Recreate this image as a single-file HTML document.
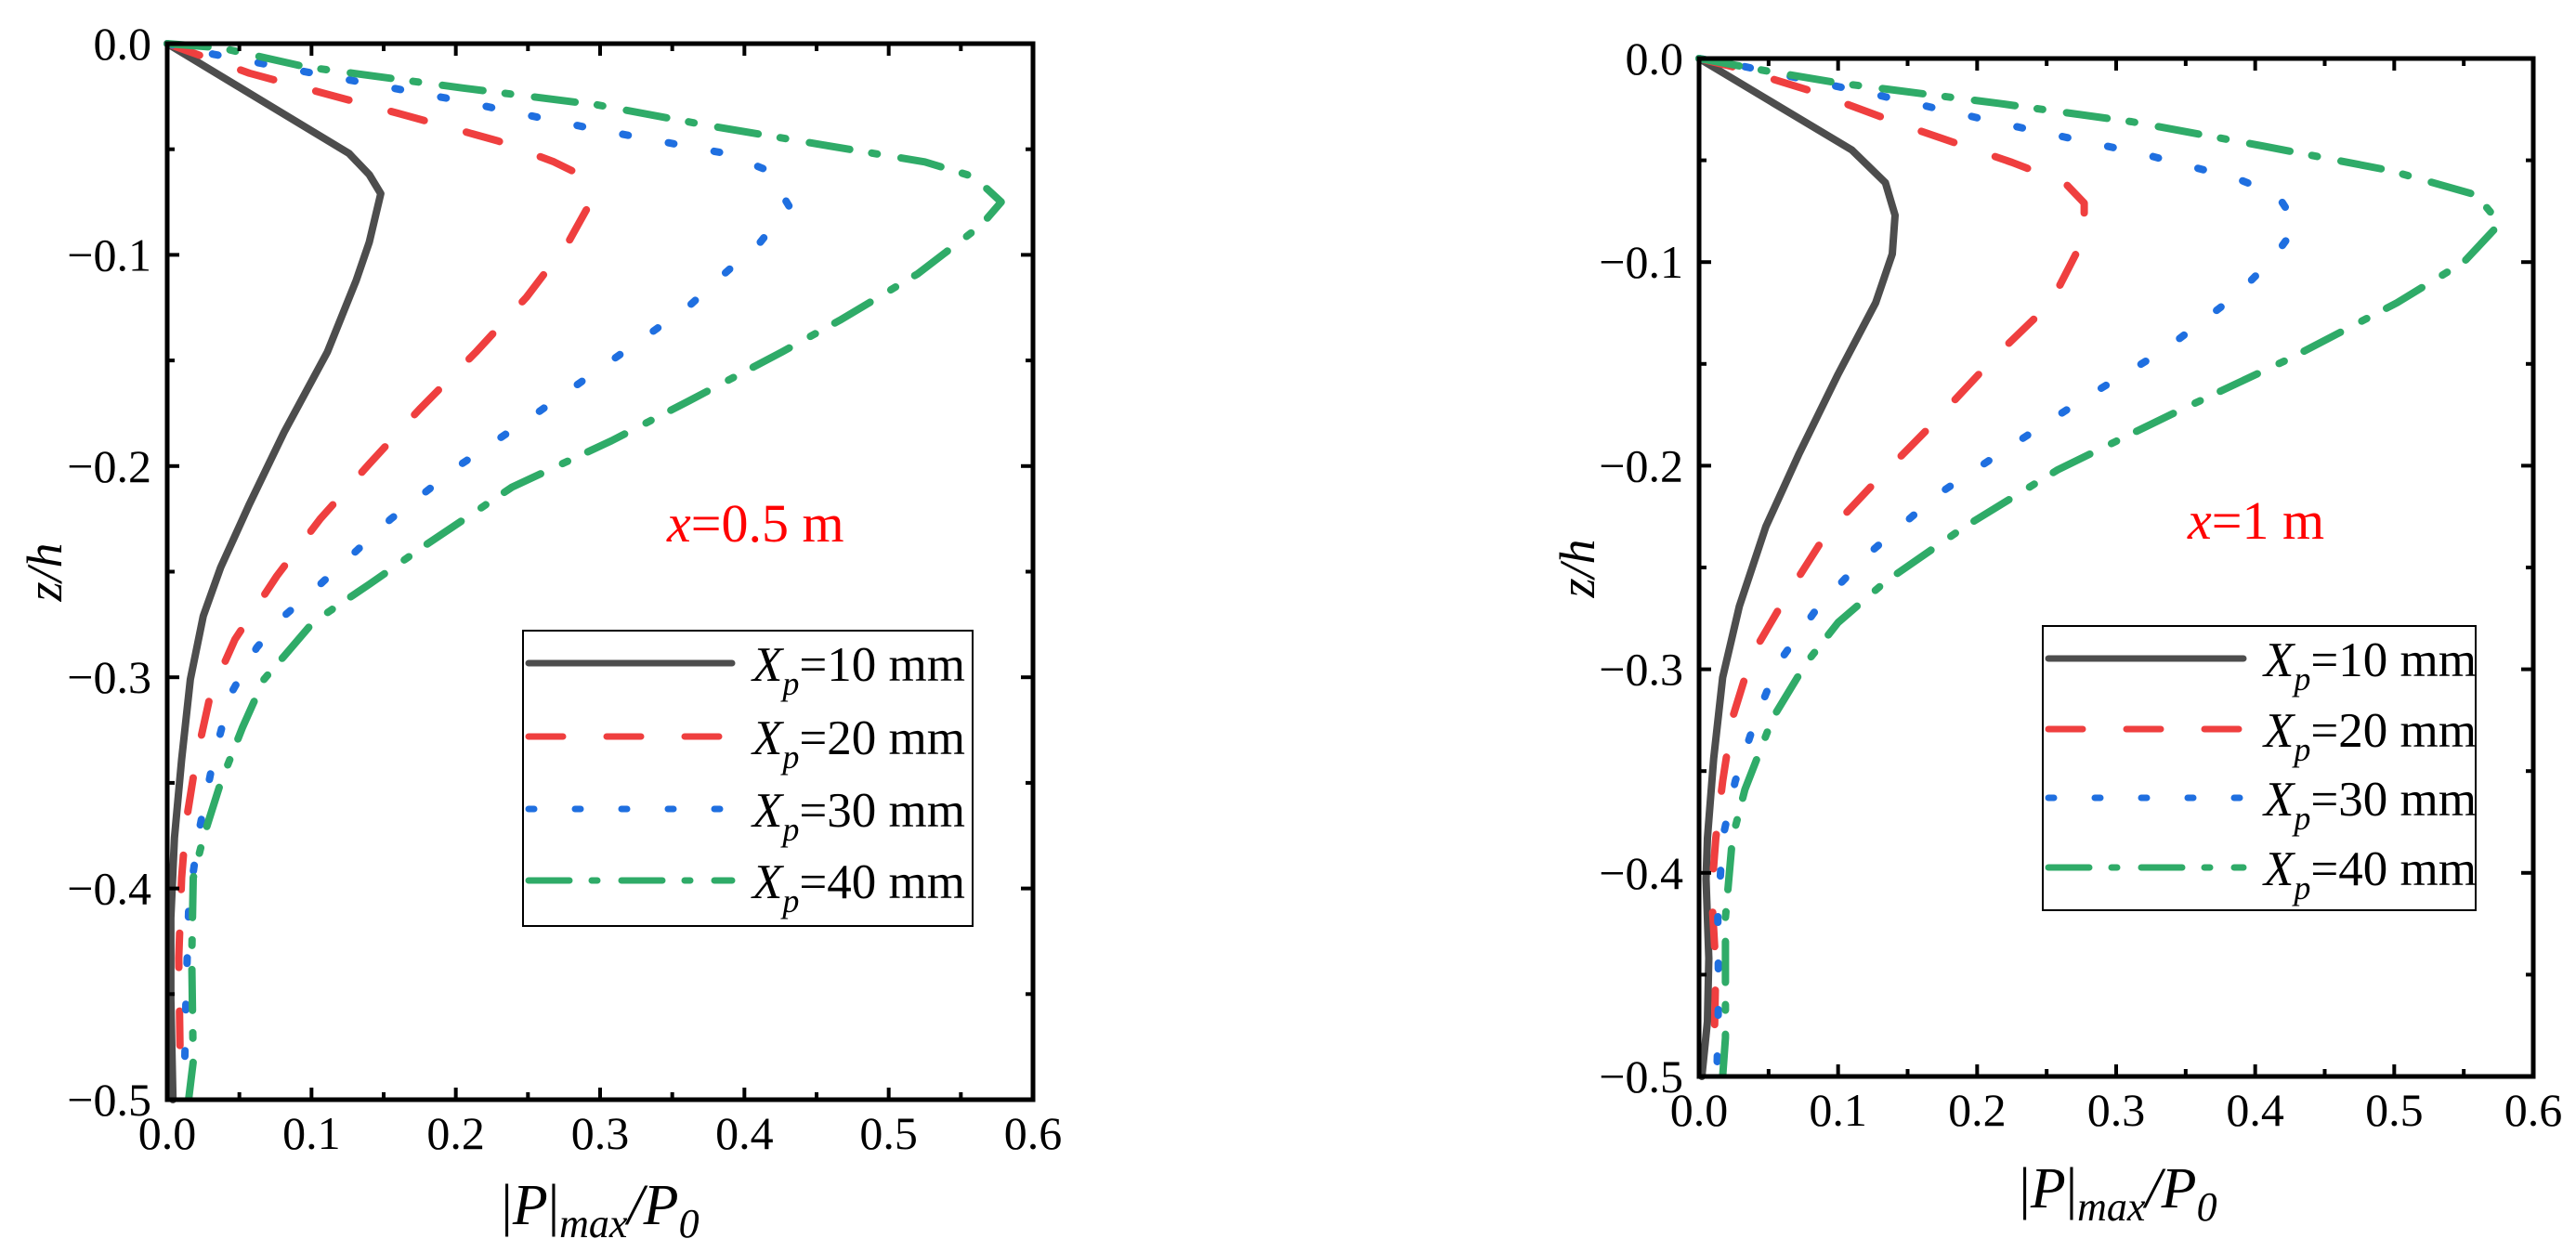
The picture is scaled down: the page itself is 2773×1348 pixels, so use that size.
<!DOCTYPE html>
<html><head><meta charset="utf-8">
<style>
html,body{margin:0;padding:0;background:#fff;}
svg{display:block;}
text{font-family:"Liberation Serif","Times New Roman",serif;}
</style></head>
<body>
<svg id="fig" width="2773" height="1348" viewBox="0 0 2773 1348" xmlns="http://www.w3.org/2000/svg"></svg>
<script>
// ---- data (x = |P|max/P0, z = z/h) ----
const seriesNames = ["Xp=10 mm","Xp=20 mm","Xp=30 mm","Xp=40 mm"];
const xTicks = [0,0.1,0.2,0.3,0.4,0.5,0.6];
const yTicks = [0,-0.1,-0.2,-0.3,-0.4,-0.5];
const xTickLabels = ["0.0","0.1","0.2","0.3","0.4","0.5","0.6"];
const yTickLabels = ["0.0","\u22120.1","\u22120.2","\u22120.3","\u22120.4","\u22120.5"];

// Panel A: x=0.5 m
const a10x = [0,0.126,0.140,0.148,0.140,0.131,0.111,0.081,0.057,0.037,0.025,0.016,0.010,0.005,0.0025,0.0025,0.004];
const a10z = [0,-0.052,-0.062,-0.071,-0.094,-0.112,-0.146,-0.184,-0.218,-0.248,-0.271,-0.301,-0.339,-0.376,-0.414,-0.452,-0.5];
const a20x = [0,0.057,0.160,0.229,0.268,0.283,0.291,0.278,0.249,0.214,0.175,0.140,0.106,0.076,0.047,0.030,0.020,0.013,0.010,0.008,0.009];
const a20z = [0,-0.014,-0.033,-0.046,-0.056,-0.061,-0.078,-0.094,-0.12,-0.146,-0.173,-0.199,-0.225,-0.252,-0.282,-0.308,-0.339,-0.369,-0.395,-0.433,-0.482];
const a30x = [0,0.032,0.101,0.195,0.293,0.387,0.416,0.431,0.411,0.386,0.362,0.308,0.254,0.204,0.155,0.106,0.081,0.062,0.044,0.032,0.022,0.015,0.013,0.012];
const a30z = [0,-0.005,-0.014,-0.026,-0.040,-0.052,-0.060,-0.077,-0.094,-0.109,-0.124,-0.150,-0.176,-0.199,-0.225,-0.256,-0.271,-0.286,-0.308,-0.339,-0.373,-0.407,-0.452,-0.489];
const a40x = [0,0.037,0.096,0.205,0.298,0.377,0.455,0.525,0.559,0.578,0.564,0.520,0.466,0.426,0.362,0.308,0.239,0.180,0.140,0.101,0.081,0.067,0.052,0.037,0.025,0.018,0.017,0.018,0.015];
const a40z = [0,-0.002,-0.011,-0.021,-0.029,-0.039,-0.048,-0.056,-0.063,-0.075,-0.086,-0.109,-0.131,-0.146,-0.169,-0.188,-0.210,-0.237,-0.256,-0.274,-0.290,-0.301,-0.324,-0.350,-0.376,-0.395,-0.433,-0.482,-0.499];

// Panel B: x=1 m
const b10x = [0,0.110,0.134,0.141,0.139,0.127,0.100,0.072,0.048,0.029,0.017,0.0105,0.006,0.005,0.007,0.006,0.002];
const b10z = [0,-0.045,-0.061,-0.077,-0.096,-0.120,-0.155,-0.194,-0.230,-0.269,-0.304,-0.344,-0.383,-0.403,-0.442,-0.473,-0.5];
const b20x = [0,0.024,0.081,0.148,0.225,0.263,0.277,0.277,0.253,0.215,0.163,0.124,0.091,0.062,0.038,0.024,0.017,0.012,0.009,0.012,0.011];
const b20z = [0,-0.004,-0.016,-0.033,-0.051,-0.061,-0.071,-0.088,-0.120,-0.145,-0.183,-0.210,-0.234,-0.265,-0.293,-0.324,-0.355,-0.383,-0.410,-0.446,-0.481];
const b30x = [0,0.033,0.129,0.225,0.320,0.387,0.416,0.430,0.413,0.387,0.335,0.277,0.225,0.172,0.124,0.086,0.057,0.041,0.026,0.017,0.0135,0.014,0.013];
const b30z = [0,-0.004,-0.018,-0.033,-0.047,-0.059,-0.067,-0.082,-0.098,-0.116,-0.143,-0.167,-0.190,-0.214,-0.242,-0.269,-0.297,-0.324,-0.355,-0.383,-0.422,-0.461,-0.493];
const b40x = [0,0.048,0.100,0.215,0.311,0.406,0.497,0.559,0.576,0.550,0.502,0.426,0.339,0.258,0.191,0.134,0.100,0.077,0.053,0.033,0.024,0.019,0.019,0.017];
const b40z = [0,-0.006,-0.012,-0.022,-0.031,-0.043,-0.055,-0.067,-0.081,-0.100,-0.120,-0.147,-0.175,-0.202,-0.230,-0.257,-0.277,-0.297,-0.324,-0.359,-0.383,-0.422,-0.481,-0.5];

const NS = "http://www.w3.org/2000/svg";
const svg = document.getElementById("fig");
const colors = ["#4d4d4d","#ef3f3f","#1f6fe0","#2fab68"];
const dashes = ["none","37 47","6 44","44 24 6 26"];

function mk(tag, attrs, parent){
  const e = document.createElementNS(NS, tag);
  for (const k in attrs) e.setAttribute(k, attrs[k]);
  (parent||svg).appendChild(e);
  return e;
}

function panel(P){
  const g = mk("g", {});
  
  
  const sx = v => P.L + (v-0)/(0.6-0)*(P.R-P.L);
  const sy = v => P.T + (0-v)/(0.5)*(P.B-P.T);
  P.series.forEach((s,i)=>{
    const pts = s[0].map((x,j)=> sx(x).toFixed(1)+","+sy(s[1][j]).toFixed(1)).join(" ");
    const pl = mk("polyline", {points:pts, fill:"none", stroke:colors[i], "stroke-width":8,
      "stroke-linecap":"round","stroke-linejoin":"round"}, g);
    if (dashes[i]!=="none") pl.setAttribute("stroke-dasharray", dashes[i]);
    
    
  });
  const fr = mk("rect",{x:P.L,y:P.T,width:P.R-P.L,height:P.B-P.T,fill:"none",stroke:"#000","stroke-width":5},g);
  
  
  for (let k=0;k<=12;k++){
    const v = k*0.05, X = sx(v), len = k%2===0?13:8;
    mk("line",{x1:X,y1:P.B,x2:X,y2:P.B-len,stroke:"#000","stroke-width":4},g);
    mk("line",{x1:X,y1:P.T,x2:X,y2:P.T+len,stroke:"#000","stroke-width":4},g);
  }
  for (let k=0;k<=10;k++){
    const v = -k*0.05, Y = sy(v), len = k%2===0?13:8;
    mk("line",{x1:P.L,y1:Y,x2:P.L+len,y2:Y,stroke:"#000","stroke-width":4},g);
    mk("line",{x1:P.R,y1:Y,x2:P.R-len,y2:Y,stroke:"#000","stroke-width":4},g);
  }
  xTicks.forEach((v,i)=>{
    const t = mk("text",{x:sx(v),y:P.B+53,"font-size":50,"text-anchor":"middle"},g);
    t.textContent = xTickLabels[i];
    
    
  });
  yTicks.forEach((v,i)=>{
    const t = mk("text",{x:P.L-17,y:sy(v)+17,"font-size":50,"text-anchor":"end"},g);
    t.textContent = yTickLabels[i];
    
    
  });
  const yt = mk("text",{x:0,y:0,"font-size":54,"font-style":"italic","text-anchor":"middle",
    transform:"translate("+P.yTitleX+","+P.yTitleY+") rotate(-90)"},g);
  yt.textContent = "z/h";
  
  
  const xt = mk("text",{x:P.xTitleX,y:P.xTitleY,"font-size":62,"text-anchor":"middle"},g);
  xt.innerHTML = '|<tspan font-style="italic">P</tspan>|<tspan font-style="italic" font-size="44" dy="14">max</tspan><tspan dy="-14" font-style="italic">/P</tspan><tspan font-style="italic" font-size="44" dy="14">0</tspan>';
  
  
  const an = mk("text",{x:P.annX,y:P.annY,"font-size":58,fill:"#ff0000"},g);
  an.innerHTML = '<tspan font-style="italic">x</tspan>='+P.annText;
  
  
  const lg = mk("g",{},g);
  
  
  mk("rect",{x:P.lgL,y:P.lgT,width:P.lgW,height:P.lgH,fill:"#fff",stroke:"#000","stroke-width":2},lg);
  seriesNames.forEach((n,i)=>{
    const y = P.lgRows[i];
    const ln = mk("line",{x1:P.lgL+6,y1:y,x2:P.lgL+6+P.lgLine,y2:y,stroke:colors[i],"stroke-width":7,"stroke-linecap":"round"},lg);
    if (dashes[i]!=="none") ln.setAttribute("stroke-dasharray", dashes[i]);
    
    
    const t = mk("text",{x:P.lgL+6+P.lgLine+22,y:y+19,"font-size":53},lg);
    t.innerHTML = '<tspan font-style="italic">X</tspan><tspan font-style="italic" font-size="36" dy="15">p</tspan><tspan dy="-15">='+n.slice(3)+'</tspan>';
    
    
  });
}

panel({name:"panel-x-0.5m",L:180,R:1112,T:47,B:1184,
  series:[[a10x,a10z],[a20x,a20z],[a30x,a30z],[a40x,a40z]],
  yTitleX:66,yTitleY:616,xTitleX:646,xTitleY:1318,
  annX:718,annY:583,annText:"0.5 m",
  lgL:563,lgT:679,lgW:484,lgH:318,lgLine:219,lgRows:[714,793,871,948]});
panel({name:"panel-x-1m",L:1829,R:2727,T:63,B:1159,
  series:[[b10x,b10z],[b20x,b20z],[b30x,b30z],[b40x,b40z]],
  yTitleX:1716,yTitleY:612,xTitleX:2280,xTitleY:1300,
  annX:2355,annY:580,annText:"1 m",
  lgL:2199,lgT:674,lgW:466,lgH:306,lgLine:210,lgRows:[709,785,859,934]});
</script>
</body></html>
